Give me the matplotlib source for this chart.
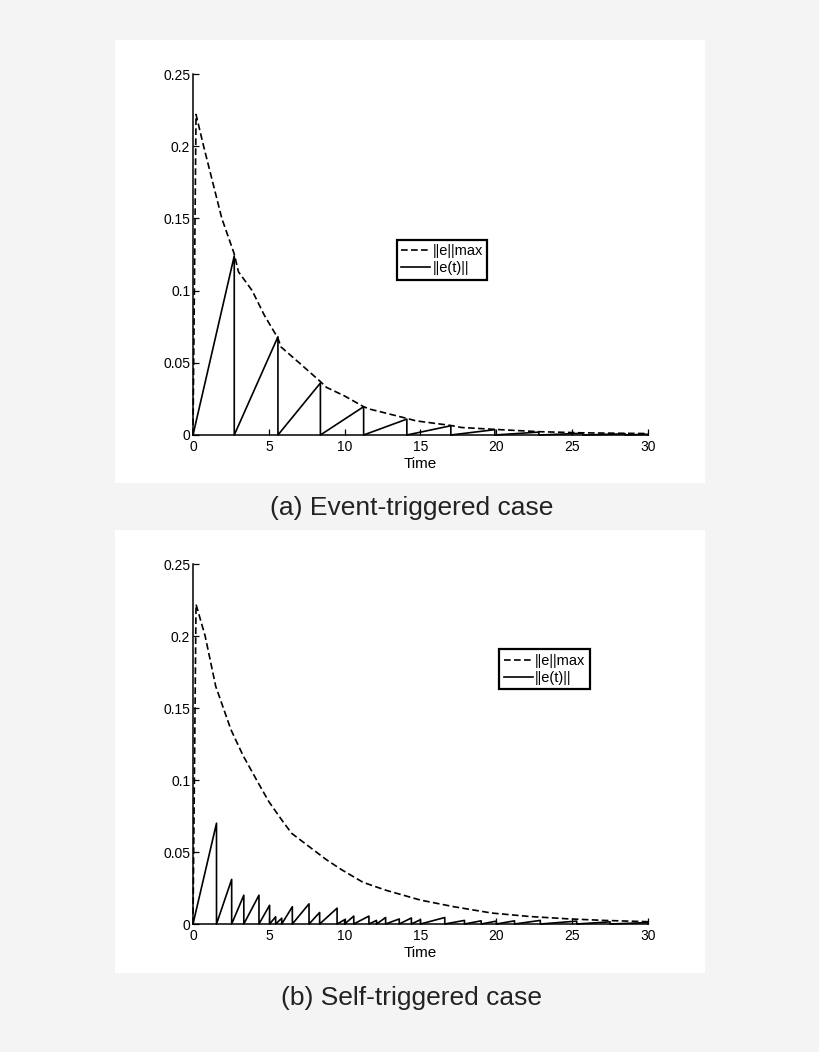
"""Event- vs self-triggered error norm, two stacked panels."""
import matplotlib
matplotlib.use("Agg")
import matplotlib.pyplot as plt
from matplotlib.patches import Rectangle
from matplotlib.ticker import FormatStrFormatter

plt.rcParams["font.family"] = ["Liberation Sans", "DejaVu Sans"]

# (a) event-triggered: threshold curve ||e||max
ET_MAX_T = [0, 0.2, 0.7, 1.3, 1.9, 2.7, 3.0, 3.9, 4.7, 5.6, 5.8, 7.0, 8.4, 8.8,
            10.0, 11.25, 11.7, 14.1, 14.7, 17.0, 17.7, 19.9, 22.8, 25.7, 30]
ET_MAX_Y = [0, 0.222, 0.2, 0.175, 0.15, 0.126, 0.113, 0.1, 0.083, 0.067, 0.061,
            0.05, 0.037, 0.033, 0.027, 0.0196, 0.0178, 0.0115, 0.0098, 0.0066,
            0.0052, 0.0039, 0.0023, 0.0015, 0.0010]
# (a) trigger instants and error just before each reset
ET_TRIG = [0, 2.72, 5.6, 8.4, 11.25, 14.1, 17.0, 19.9, 22.8, 25.7, 28.5, 30]
ET_PEAK = [0.124, 0.068, 0.036, 0.0196, 0.011, 0.0064, 0.0037, 0.002,
           0.0012, 0.0008, 0.0005]

# (b) self-triggered
ST_MAX_T = [0, 0.2, 0.8, 1.5, 2.0, 2.5, 3.3, 4.3, 5.0, 5.8, 6.5, 7.5, 8.75,
            9.75, 11.2, 12.7, 15.0, 17.2, 19.7, 22.2, 24.7, 27.1, 30]
ST_MAX_Y = [0, 0.222, 0.2, 0.165, 0.15, 0.135, 0.117, 0.098, 0.085, 0.073,
            0.063, 0.055, 0.045, 0.038, 0.029, 0.0235, 0.0166, 0.012, 0.0076,
            0.0052, 0.0036, 0.0025, 0.0016]
ST_TRIG = [0, 1.55, 2.55, 3.35, 4.35, 5.05, 5.45, 5.85, 6.55, 7.65, 8.35, 9.5,
           10.0, 10.6, 11.6, 12.1, 12.7, 13.6, 14.4, 15.0, 16.6, 17.9, 19.0,
           20.0, 21.2, 22.9, 25.3, 27.5, 30]
ST_PEAK = [0.070, 0.031, 0.020, 0.020, 0.013, 0.005, 0.004, 0.012, 0.014,
           0.008, 0.011, 0.003, 0.0055, 0.0055, 0.0025, 0.0045, 0.0035, 0.0042,
           0.003, 0.0045, 0.0025, 0.0022, 0.002, 0.0022, 0.0025, 0.002, 0.0015,
           0.001]

CAPTIONS = ["(a) Event-triggered case", "(b) Self-triggered case"]
W, H = 820, 1052


def sawtooth(trig, peak):
    # linear growth between triggers, reset to zero at each trigger
    xs, ys = [], []
    for k, p in enumerate(peak):
        xs += [trig[k], trig[k + 1], trig[k + 1]]
        ys += [0, p, 0]
    return xs, ys


def panel(fig, rect, max_t, max_y, trig, peak, leg_anchor):
    ax = fig.add_axes(rect, zorder=2)
    ax.set_facecolor("none")
    ax.plot(max_t, max_y, "k--", lw=1.2, dashes=(4, 2), clip_on=False, label="||e||max")
    xs, ys = sawtooth(trig, peak)
    ax.plot(xs, ys, "k-", lw=1.2, clip_on=False, label="||e(t)||")
    ax.set_xlim(0, 30)
    ax.set_ylim(0, 0.25)
    ax.set_xticks([0, 5, 10, 15, 20, 25, 30])
    ax.set_yticks([0, 0.05, 0.1, 0.15, 0.2, 0.25])
    ax.yaxis.set_major_formatter(FormatStrFormatter("%g"))
    ax.spines[["top", "right"]].set_visible(False)
    for s in ("left", "bottom"):
        ax.spines[s].set_linewidth(1.1)
    ax.tick_params(direction="in", length=4.2, width=0.9, labelsize=10)
    ax.tick_params(axis="x", pad=3.5)
    ax.tick_params(axis="y", pad=2)
    ax.set_xlabel("Time", fontsize=11, labelpad=2)
    leg = ax.legend(loc="upper left", bbox_to_anchor=leg_anchor, fontsize=10.5,
                    fancybox=False, framealpha=1, edgecolor="black",
                    handlelength=2.0, handletextpad=0.15, borderpad=0.3,
                    labelspacing=0.2, borderaxespad=0)
    leg.get_frame().set_linewidth(1.6)
    return ax


fig = plt.figure(figsize=(W / 100, H / 100), dpi=100, facecolor="#f4f4f4")

# white panels behind each plot
for top in (40, 530):
    fig.patches.append(Rectangle((115 / W, 1 - (top + 443) / H), 590 / W, 443 / H,
                                 transform=fig.transFigure, facecolor="white",
                                 edgecolor="none", zorder=-5))

panel(fig, [193 / W, 1 - 435 / H, 455 / W, 361 / H], ET_MAX_T, ET_MAX_Y,
      ET_TRIG, ET_PEAK, (0.448, 0.540))
panel(fig, [193 / W, 1 - 924 / H, 455 / W, 360 / H], ST_MAX_T, ST_MAX_Y,
      ST_TRIG, ST_PEAK, (0.673, 0.763))

fig.text(412 / W, 1 - 508 / H, CAPTIONS[0], ha="center", va="center", fontsize=19, color="#222222")
fig.text(412 / W, 1 - 998 / H, CAPTIONS[1], ha="center", va="center", fontsize=19, color="#222222")

fig.savefig("out.png", dpi=100, facecolor=fig.get_facecolor())
